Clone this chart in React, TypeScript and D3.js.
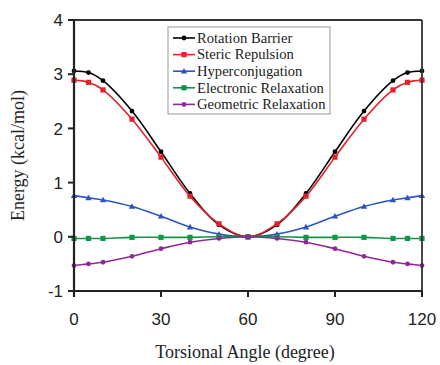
import React from "react";
import * as d3 from "d3";

const angles = [0, 5, 10, 20, 30, 40, 50, 60, 70, 80, 90, 100, 110, 115, 120];
const rotationBarrier = [3.06, 3.03, 2.88, 2.32, 1.57, 0.8, 0.22, 0, 0.22, 0.8, 1.57, 2.32, 2.88, 3.03, 3.06];
const stericRepulsion = [2.89, 2.85, 2.71, 2.17, 1.47, 0.75, 0.24, 0, 0.24, 0.75, 1.47, 2.17, 2.71, 2.85, 2.89];
const hyperconjugation = [0.76, 0.72, 0.68, 0.56, 0.38, 0.18, 0.05, 0, 0.05, 0.18, 0.38, 0.56, 0.68, 0.72, 0.76];
const electronicRelaxation = [-0.03, -0.03, -0.03, -0.01, -0.01, -0.01, 0, 0, 0, -0.01, -0.01, -0.01, -0.03, -0.03, -0.03];
const geometricRelaxation = [-0.53, -0.5, -0.47, -0.36, -0.22, -0.1, -0.03, 0, -0.03, -0.1, -0.22, -0.36, -0.47, -0.5, -0.53];

const seriesNames = ["Rotation Barrier", "Steric Repulsion", "Hyperconjugation", "Electronic Relaxation", "Geometric Relaxation"];
const seriesValues = [rotationBarrier, stericRepulsion, hyperconjugation, electronicRelaxation, geometricRelaxation];
const seriesColors = ["#000000", "#e0232b", "#2f54c0", "#0f9648", "#92279a"];
const seriesMarkers = ["circle", "square", "triangle", "square", "circle"];

const xTicks = [0, 30, 60, 90, 120];
const yTicks = [-1, 0, 1, 2, 3, 4];

const margin = { left: 74, right: 18, top: 20, bottom: 74 };
const W = 440, H = 365;
const serif = "'Liberation Serif', 'Times New Roman', serif";
const sans = "'Liberation Sans', Arial, sans-serif";

function Marker({ type, x, y, color }: { type: string; x: number; y: number; color: string }) {
  if (type === "square") return <rect x={x - 2.6} y={y - 2.6} width={5.2} height={5.2} fill={color} />;
  if (type === "triangle") {
    const s = 3.2;
    return <path d={`M${x},${y - s}L${x + s},${y + s * 0.75}L${x - s},${y + s * 0.75}Z`} fill={color} />;
  }
  return <circle cx={x} cy={y} r={2.4} fill={color} />;
}

export default function App() {
  const x = d3.scaleLinear().domain([0, 120]).range([margin.left, W - margin.right]);
  const y = d3.scaleLinear().domain([-1, 4]).range([H - margin.bottom, margin.top]);
  const line = d3
    .line<number>()
    .x((_, i) => x(angles[i]))
    .y((d) => y(d))
    .curve(d3.curveCatmullRom.alpha(0.5));
  const x0 = x(0), x1 = x(120), y0 = y(-1), y1 = y(4);
  const legX = 168, legY = 27, legW = 162, legH = 87, rowH = 16.6;
  return (
    <svg width={W} height={H} style={{ position: "absolute", left: 0, top: 0 }}>
      <rect width={W} height={H} fill="#fff" />
      {seriesValues.map((vals, si) => (
        <g key={si}>
          <path d={line(vals) || ""} fill="none" stroke={seriesColors[si]} strokeWidth={1.6} />
          {vals.map((v, i) => (
            <Marker key={i} type={seriesMarkers[si]} x={x(angles[i])} y={y(v)} color={seriesColors[si]} />
          ))}
        </g>
      ))}
      {/* frame */}
      <line x1={x0} x2={x1} y1={y1} y2={y1} stroke="#333" strokeWidth={1.8} />
      <line x1={x1} x2={x1} y1={y1} y2={y0} stroke="#333" strokeWidth={1.8} />
      <line x1={x0} x2={x0} y1={y1 - 0.9} y2={y0 + 6} stroke="#222" strokeWidth={2.2} />
      <line x1={x0 - 6} x2={x1} y1={y0} y2={y0} stroke="#222" strokeWidth={2.2} />
      {yTicks.map((t) => (
        <g key={t}>
          <line x1={x0 - 6} x2={x0} y1={y(t)} y2={y(t)} stroke="#222" strokeWidth={2} />
          <text x={x0 - 11} y={y(t)} dy="0.36em" textAnchor="end" fontFamily={sans} fontSize={17} fill="#222">
            {t}
          </text>
        </g>
      ))}
      {xTicks.map((t) => (
        <g key={t}>
          <line x1={x(t)} x2={x(t)} y1={y0} y2={y0 + 6} stroke="#222" strokeWidth={2} />
          <text x={x(t)} y={y0 + 34} textAnchor="middle" fontFamily={sans} fontSize={17} fill="#222">
            {t}
          </text>
        </g>
      ))}
      <text x={245} y={358} textAnchor="middle" fontFamily={serif} fontSize={18} fill="#222">
        Torsional Angle (degree)
      </text>
      <text transform={`translate(24,${(y0 + y1) / 2}) rotate(-90)`} textAnchor="middle" fontFamily={serif} fontSize={18} fill="#222">
        Energy (kcal/mol)
      </text>
      {/* legend */}
      <rect x={legX} y={legY} width={legW} height={legH} fill="#fff" stroke="#999" strokeWidth={1} />
      {seriesNames.map((n, i) => {
        const cy = legY + 11 + i * rowH;
        return (
          <g key={n}>
            <line x1={legX + 5} x2={legX + 27} y1={cy} y2={cy} stroke={seriesColors[i]} strokeWidth={1.6} />
            <Marker type={seriesMarkers[i]} x={legX + 16} y={cy} color={seriesColors[i]} />
            <text x={legX + 29} y={cy} dy="0.33em" fontFamily={serif} fontSize={14.6} fill="#222">
              {n}
            </text>
          </g>
        );
      })}
    </svg>
  );
}
